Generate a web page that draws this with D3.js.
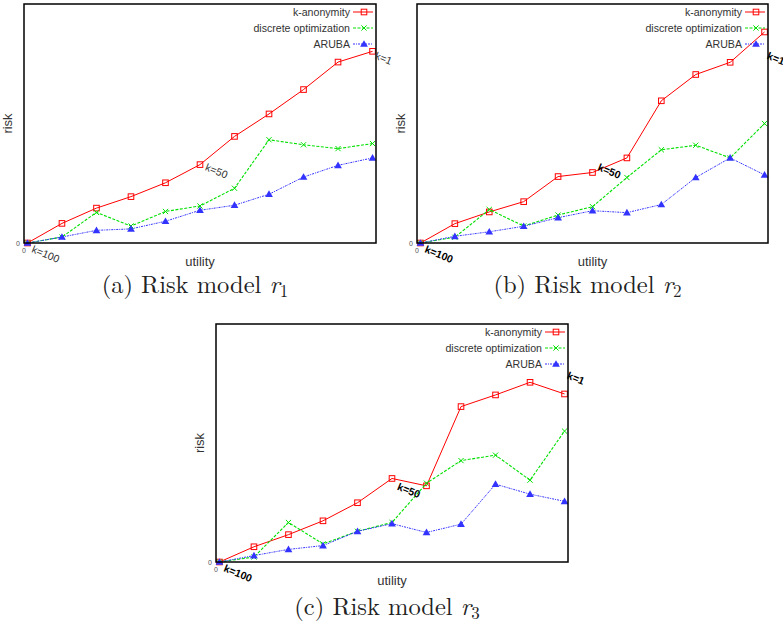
<!DOCTYPE html>
<html lang="en">
<head>
  <meta charset="UTF-8" />
  <title>Risk vs utility</title>
  <script src="https://d3js.org/d3.v7.min.js"></script>
  <style>
    html, body { margin: 0; padding: 0; background: #fff; }
    svg { display: block; }
    .legend text, .axis-title { font-family: "Liberation Sans", Arial, sans-serif; fill: #333; }
    .tick0 { font-family: "Liberation Sans", Arial, sans-serif; font-size: 7px; fill: #555; }
    .caption { font-family: "Latin Modern Roman", "Liberation Serif", serif; font-size: 24.5px; fill: #222; }
    .anno { font-family: "Liberation Sans", Arial, sans-serif; font-size: 10.5px; }
  </style>
</head>
<body>
  <svg id="chart" width="783" height="623"></svg>

  <script>
    // data (risk in % of plot height, 11 points of decreasing k)
    const seriesNames = ['k-anonymity', 'discrete optimization', 'ARUBA'];
    const kAnonA   = [0, 8.2, 14.6, 19.4, 25.2, 32.8, 44.6, 54.0, 64.2, 75.7, 80.2];
    const discreteA= [0, 2.5, 12.8, 7.1, 13.2, 15.5, 22.9, 43.2, 41.1, 39.5, 41.6];
    const arubaA   = [0, 2.5, 5.3, 5.9, 9.1, 13.7, 15.8, 20.4, 27.6, 32.5, 35.6];
    const kAnonB   = [0, 8.1, 13.0, 17.3, 27.8, 29.5, 35.6, 59.5, 70.5, 75.6, 88.3];
    const discreteB= [0, 2.4, 14.0, 7.1, 11.7, 15.2, 27.4, 39.0, 40.9, 35.6, 50.0];
    const arubaB   = [0, 2.8, 4.7, 7.0, 10.6, 13.5, 12.7, 16.1, 27.4, 35.6, 28.5];
    const kAnonC   = [0, 6.4, 11.5, 17.3, 24.9, 35.1, 32.0, 65.3, 70.2, 75.5, 70.6];
    const discreteC= [0, 2.1, 16.6, 7.6, 12.9, 16.6, 33.1, 42.6, 44.9, 34.4, 55.0];
    const arubaC   = [0, 2.7, 5.3, 6.9, 12.9, 16.1, 12.4, 15.9, 32.7, 28.5, 25.5];
    // k labels placed in data units
    const annoText = ['k=100', 'k=50', 'k=1'];
    const annoX    = [0.1, 5.13, 10.05];
    const annoY    = [-3.8, 30.5, 77.2];
    const captions = ['(a) Risk model ', '(b) Risk model ', '(c) Risk model '];
    const subs     = ['1', '2', '3'];

    const svg = d3.select('#chart');
    const styles = [
      { color: '#ff0000', dash: null,      width: 1,   marker: 'square' },
      { color: '#00e000', dash: '3,1.5',   width: 1.1, marker: 'cross' },
      { color: '#3333ff', dash: '2,1,1,1', width: 1,   marker: 'triangle' }
    ];

    const panels = [
      { left: 24,  top: 4,   right: 376, bottom: 243, data: [kAnonA, discreteA, arubaA], capY: 293, bold: false },
      { left: 417, top: 4,   right: 768, bottom: 243, data: [kAnonB, discreteB, arubaB], capY: 293, bold: true },
      { left: 216, top: 324, right: 568, bottom: 562, data: [kAnonC, discreteC, arubaC], capY: 615, bold: true }
    ];

    function drawMarker(g, type, x, y, color) {
      if (type === 'square') {
        g.append('rect').attr('x', x - 2.8).attr('y', y - 2.8).attr('width', 5.6).attr('height', 5.6)
          .attr('fill', 'none').attr('stroke', color).attr('stroke-width', 1);
      } else if (type === 'cross') {
        g.append('path').attr('d', `M${x-2.6},${y-2.6}L${x+2.6},${y+2.6}M${x-2.6},${y+2.6}L${x+2.6},${y-2.6}`)
          .attr('stroke', color).attr('stroke-width', 1).attr('fill', 'none');
      } else {
        g.append('path').attr('d', d3.symbol().type(d3.symbolTriangle).size(26)())
          .attr('transform', `translate(${x},${y + 0.6})`).attr('fill', color);
      }
    }

    panels.forEach((p, pi) => {
      const g = svg.append('g');
      const x = d3.scaleLinear().domain([-0.1, 10.1]).range([p.left, p.right]);
      const y = d3.scaleLinear().domain([0, 100]).range([p.bottom, p.top]);
      const idx = d3.range(11);

      // series
      p.data.forEach((vals, si) => {
        const st = styles[si];
        const line = d3.line().x(i => x(i)).y(i => y(vals[i]));
        g.append('path').attr('d', line(idx)).attr('fill', 'none')
          .attr('stroke', st.color).attr('stroke-width', st.width)
          .attr('stroke-dasharray', st.dash);
        idx.forEach(i => drawMarker(g, st.marker, x(i), y(vals[i]), st.color));
      });

      // frame
      g.append('rect').attr('x', p.left).attr('y', p.top)
        .attr('width', p.right - p.left).attr('height', p.bottom - p.top)
        .attr('fill', 'none').attr('stroke', '#000').attr('stroke-width', 1.5);

      // zero ticks
      g.append('text').attr('class', 'tick0').attr('x', p.left - 4).attr('y', p.bottom + 2.5)
        .attr('text-anchor', 'end').text('0');
      g.append('text').attr('class', 'tick0').attr('x', p.left).attr('y', p.bottom + 10)
        .attr('text-anchor', 'middle').text('0');

      // axis titles
      g.append('text').attr('class', 'axis-title').attr('font-size', 13)
        .attr('text-anchor', 'middle')
        .attr('transform', `translate(${p.left - 12},${(p.top + p.bottom) / 2}) rotate(-90)`)
        .text('risk');
      g.append('text').attr('class', 'axis-title').attr('font-size', 13)
        .attr('text-anchor', 'middle')
        .attr('x', (p.left + p.right) / 2).attr('y', p.bottom + 22.5).text('utility');

      // legend
      const lg = g.append('g').attr('class', 'legend');
      seriesNames.forEach((name, si) => {
        const st = styles[si];
        const ly = p.top + 8 + si * 16;
        lg.append('text').attr('x', p.right - 26).attr('y', ly + 3.8)
          .attr('text-anchor', 'end').attr('font-size', 10.6).text(name);
        lg.append('line').attr('x1', p.right - 23).attr('x2', p.right - 3)
          .attr('y1', ly).attr('y2', ly).attr('stroke', st.color)
          .attr('stroke-dasharray', st.dash);
        drawMarker(lg, st.marker, p.right - 12, ly, st.color);
      });

      // k annotations
      annoText.forEach((t, ai) => {
        g.append('text').attr('class', 'anno')
          .attr('fill', p.bold ? '#000' : '#333')
          .attr('font-weight', p.bold ? 'bold' : 'normal')
          .attr('transform', `translate(${x(annoX[ai])},${y(annoY[ai])}) rotate(22)`)
          .text(t);
      });

      // caption
      const cap = svg.append('text').attr('class', 'caption')
        .attr('x', (p.left + p.right) / 2 - 5).attr('y', p.capY).attr('text-anchor', 'middle');
      cap.append('tspan').text(captions[pi]);
      cap.append('tspan').attr('font-style', 'italic').text('r');
      cap.append('tspan').attr('font-size', 17).attr('dy', 4).text(subs[pi]);
    });
  </script>
</body>
</html>
